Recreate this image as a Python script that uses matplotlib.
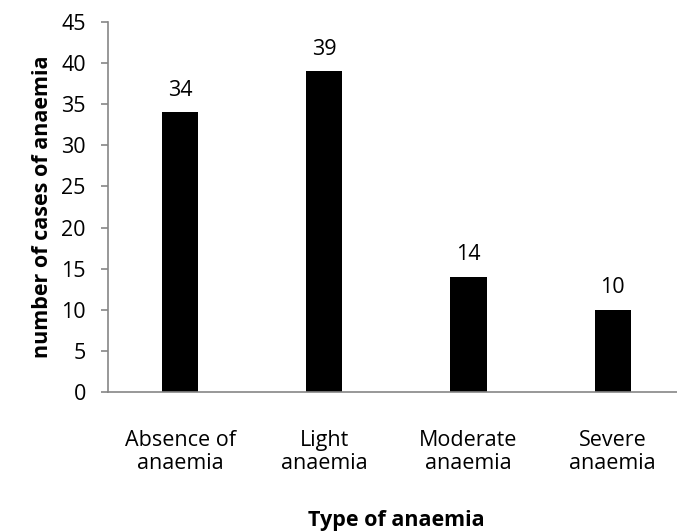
import matplotlib
matplotlib.use("Agg")
import matplotlib.pyplot as plt

categories = ["Absence of\nanaemia", "Light\nanaemia", "Moderate\nanaemia", "Severe\nanaemia"]
values = [34, 39, 14, 10]
yticks = list(range(0, 46, 5))

plt.rcParams['font.family'] = ['Open Sans', 'DejaVu Sans']
FS = 15.5

fig = plt.figure(figsize=(6.77, 5.32), dpi=100)
ax = fig.add_axes([0.1595, 0.263, 0.852, 0.696])

x = list(range(len(categories)))
ax.bar(x, values, width=0.25, color='black')
for xi, v in zip(x, values):
    ax.annotate(str(v), (xi, v), xytext=(0, 12), textcoords='offset points',
                ha='center', va='baseline', fontsize=FS)

ax.set_xlim(-0.5, len(categories) - 0.5)
ax.set_ylim(0, 45)
ax.set_yticks(yticks)
ax.set_yticklabels([str(t) for t in yticks], fontsize=FS)
ax.set_xticks(x)
ax.set_xticklabels(categories, fontsize=FS, linespacing=1.15)
ax.tick_params(axis='x', length=0, pad=27)
ax.tick_params(axis='y', length=5, width=1.2, direction='out', color='#868686', pad=11)
for s in ['top', 'right']:
    ax.spines[s].set_visible(False)
ax.spines['left'].set_color('#868686')
ax.spines['bottom'].set_color('#868686')
ax.spines['left'].set_linewidth(1.2)
ax.spines['bottom'].set_linewidth(1.2)
ax.set_ylabel("number of cases of anaemia", fontsize=FS, fontweight='bold', labelpad=6)
ax.set_xlabel("Type of anaemia", fontsize=FS, fontweight='bold', labelpad=26)

fig.savefig("out.png", dpi=100)
